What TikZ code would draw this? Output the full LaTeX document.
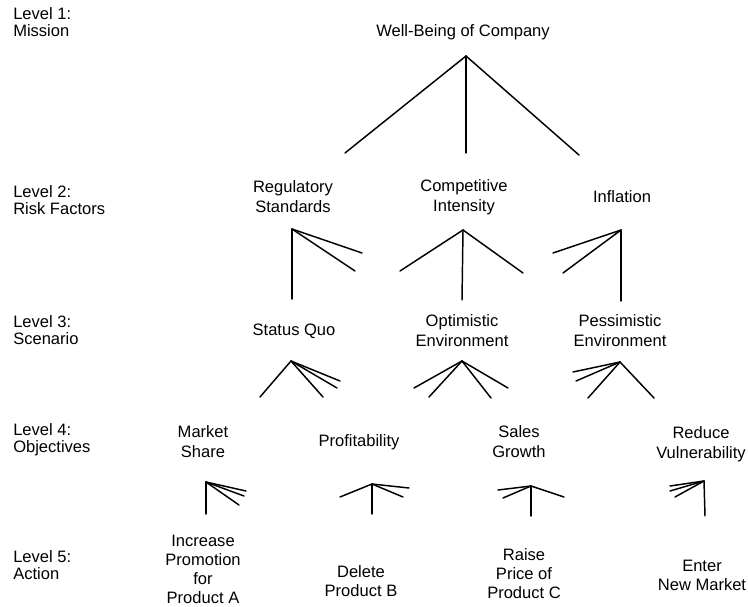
\documentclass[tikz,border=0pt]{standalone}
\usepackage{fontspec}
\setmainfont{Liberation Sans}
\begin{document}
\begin{tikzpicture}[x=0.75pt,y=-0.75pt,
  lbl/.style={font=\fontsize{12.4}{15}\selectfont, align=center, inner sep=0pt},
  act/.style={lbl, font=\fontsize{12.4}{14.3}\selectfont},
  lvl/.style={font=\fontsize{12.4}{12.6}\selectfont, align=left, anchor=west, inner sep=0pt},
  fan/.style={line width=1.1pt, line cap=round, line join=round}]
\useasboundingbox (0,0) rectangle (748,606);

% level captions on the left
\node[lvl] (l1) at (13,22)  {Level 1:\\Mission};
\node[lvl] (l2) at (13,200) {Level 2:\\Risk Factors};
\node[lvl] (l3) at (13,330) {Level 3:\\Scenario};
\node[lvl] (l4) at (13,440) {Level 4:\\Objectives};
\node[lvl] (l5) at (13,565) {Level 5:\\Action};

% hierarchy entries
\node[lbl] (top)  at (463,32)  {Well-Being of Company};
\node[lbl] (reg)  at (293,197) {Regulatory\\Standards};
\node[lbl] (comp) at (464,197) {Competitive\\Intensity};
\node[lbl] (infl) at (622,197) {Inflation};
\node[lbl] (sq)   at (294,331) {Status Quo};
\node[lbl] (opt)  at (462,331) {Optimistic\\Environment};
\node[lbl] (pes)  at (620,331) {Pessimistic\\Environment};
\node[lbl] (ms)   at (203,442) {Market\\Share};
\node[lbl] (prof) at (359,442) {Profitability};
\node[lbl] (sg)   at (519,442) {Sales\\Growth};
\node[lbl] (rv)   at (701,444) {Reduce\\Vulnerability};
\node[act] (inc) at (203,569) {Increase\\Promotion\\for\\Product A};
\node[act] (del) at (361,581) {Delete\\Product B};
\node[act] (rai) at (524,574) {Raise\\Price of\\Product C};
\node[act] (ent) at (702,575) {Enter\\New Market};

% fan apexes
\coordinate (top-a)  at (466,56);
\coordinate (reg-a)  at (292,229);
\coordinate (comp-a) at (463,230);
\coordinate (infl-a) at (621,230);
\coordinate (sq-a)   at (291,361);
\coordinate (opt-a)  at (462,361);
\coordinate (pes-a)  at (620,362);
\coordinate (ms-a)   at (206,482);
\coordinate (prof-a) at (372,484);
\coordinate (sg-a)   at (531,486);
\coordinate (rv-a)   at (704,481);

% free ends of the fan strokes
\coordinate (top-e1) at (345,153);
\coordinate (top-e2) at (466,153);
\coordinate (top-e3) at (579,155);

\coordinate (reg-e1) at (292,299);
\coordinate (reg-e2) at (362,253);
\coordinate (reg-e3) at (355,271);

\coordinate (comp-e1) at (400,271);
\coordinate (comp-e2) at (462,300);
\coordinate (comp-e3) at (523,273);

\coordinate (infl-e1) at (553,253);
\coordinate (infl-e2) at (563,273);
\coordinate (infl-e3) at (621,301);

\coordinate (sq-e1) at (260,397);
\coordinate (sq-e2) at (323,397);
\coordinate (sq-e3) at (340,381);
\coordinate (sq-e4) at (337,388);

\coordinate (opt-e1) at (414,388);
\coordinate (opt-e2) at (429,397);
\coordinate (opt-e3) at (491,398);
\coordinate (opt-e4) at (508,388);

\coordinate (pes-e1) at (573,372);
\coordinate (pes-e2) at (576,381);
\coordinate (pes-e3) at (588,398);
\coordinate (pes-e4) at (654,398);

\coordinate (ms-e1) at ([shift={(0,32)}]ms-a);
\coordinate (ms-e2) at ([shift={(40,9)}]ms-a);
\coordinate (ms-e3) at ([shift={(38,14)}]ms-a);
\coordinate (ms-e4) at ([shift={(33,23)}]ms-a);

\coordinate (prof-e1) at ([shift={(-32,13)}]prof-a);
\coordinate (prof-e2) at ([shift={(0,30)}]prof-a);
\coordinate (prof-e3) at ([shift={(37,4)}]prof-a);
\coordinate (prof-e4) at ([shift={(31,13)}]prof-a);

\coordinate (sg-e1) at ([shift={(-33,4)}]sg-a);
\coordinate (sg-e2) at ([shift={(-28,12)}]sg-a);
\coordinate (sg-e3) at ([shift={(0,30)}]sg-a);
\coordinate (sg-e4) at ([shift={(33,11)}]sg-a);

\coordinate (rv-e1) at ([shift={(-34,5)}]rv-a);
\coordinate (rv-e2) at ([shift={(-34,10)}]rv-a);
\coordinate (rv-e3) at ([shift={(-29,16)}]rv-a);
\coordinate (rv-e4) at ([shift={(1,35)}]rv-a);

% fans of branching strokes
\foreach \f/\ends in {top/{e1,e2,e3}, reg/{e1,e2,e3}, comp/{e1,e2,e3}, infl/{e1,e2,e3},
                      sq/{e1,e2,e3,e4}, opt/{e1,e2,e3,e4}, pes/{e1,e2,e3,e4},
                      ms/{e1,e2,e3,e4}, prof/{e1,e2,e3,e4}, sg/{e1,e2,e3,e4}, rv/{e1,e2,e3,e4}}
  \foreach \e in \ends
    \draw[fan] (\f-a) -- (\f-\e);
\end{tikzpicture}
\end{document}
